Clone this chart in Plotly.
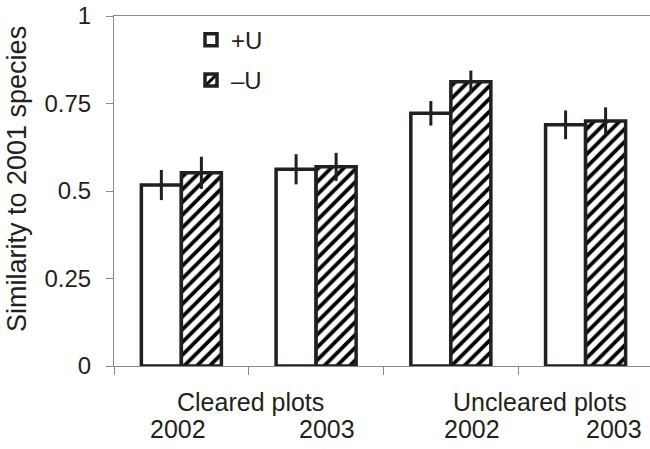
import plotly.graph_objects as go

categories = ["Cleared 2002", "Cleared 2003", "Uncleared 2002", "Uncleared 2003"]
plus_u = [0.517, 0.562, 0.722, 0.689]
plus_u_err = [0.043, 0.043, 0.035, 0.041]
minus_u = [0.552, 0.569, 0.812, 0.700]
minus_u_err = [0.046, 0.040, 0.032, 0.039]
year_labels = ["2002", "2003", "2002", "2003"]
group_labels = ["Cleared plots", "Uncleared plots"]
y_ticks = [0, 0.25, 0.5, 0.75, 1]
y_tick_text = ["0", "0.25", "0.5", "0.75", "1"]

INK = "#231f20"
AXIS = "#8a8a8a"
FONT = "Liberation Sans, Arial, sans-serif"

fig = go.Figure()
fig.add_trace(go.Bar(
    x=categories, y=plus_u, name="+U", legendgroup="a",
    marker=dict(color="white", line=dict(color=INK, width=3.5)),
    error_y=dict(type="data", array=plus_u_err, color=INK, thickness=3, width=0),
))
fig.add_trace(go.Bar(
    x=categories, y=minus_u, name="\u2013U", legendgroup="b",
    marker=dict(color="white", line=dict(color=INK, width=3.5),
                pattern=dict(shape="/", fgcolor="#000000", bgcolor="white", size=9,
                             solidity=0.42, fgopacity=1)),
    error_y=dict(type="data", array=minus_u_err, color=INK, thickness=3, width=0),
))

# year labels (offsets in pixels relative to category centres)
year_shift = [-3, 11, 21, 28]
for i, (lab, sh) in enumerate(zip(year_labels, year_shift)):
    fig.add_annotation(x=i, y=0, xref="x", yref="paper", text=lab, showarrow=False,
                       xshift=sh, yshift=-63, yanchor="middle", xanchor="center",
                       font=dict(size=25, color=INK, family=FONT))
group_pos = [0.5, 2.5]
group_shift = [2, 22]
for lab, p, sh in zip(group_labels, group_pos, group_shift):
    fig.add_annotation(x=p, y=0, xref="x", yref="paper", text=lab, showarrow=False,
                       xshift=sh, yshift=-36, yanchor="middle", xanchor="center",
                       font=dict(size=25, color=INK, family=FONT))

fig.add_annotation(x=0, y=0.5, xref="paper", yref="paper", text="Similarity to 2001 species",
                   textangle=-90, showarrow=False, xshift=-97, yshift=12,
                   xanchor="center", yanchor="middle",
                   font=dict(size=27, color=INK, family=FONT))

fig.update_layout(
    width=650, height=449,
    margin=dict(l=114, r=0, t=16, b=83),
    paper_bgcolor="white", plot_bgcolor="white",
    barmode="group", bargap=0.406, bargroupgap=0,
    font=dict(family=FONT, color=INK, size=24),
    showlegend=True,
    legend=dict(x=(191 - 114) / 536, y=0.995, xanchor="left", yanchor="top",
                bgcolor="rgba(0,0,0,0)", font=dict(size=24, color=INK, family=FONT),
                traceorder="grouped", tracegroupgap=6),
    xaxis=dict(range=[-0.5, 3.478], showline=True, linecolor=AXIS, linewidth=1,
               mirror=True, ticks="outside", tickson="boundaries", ticklen=8,
               tickcolor=AXIS, tickwidth=1, showticklabels=False, showgrid=False,
               zeroline=False, fixedrange=True),
    yaxis=dict(range=[0, 1], showline=True, linecolor=AXIS, linewidth=1,
               ticks="outside", ticklen=7, tickcolor=AXIS, tickwidth=1,
               tickvals=y_ticks, ticktext=y_tick_text, showgrid=False, zeroline=False,
               tickfont=dict(size=24, color=INK, family=FONT), ticklabelstandoff=10,
               fixedrange=True),
)

fig.write_html("out.html")
